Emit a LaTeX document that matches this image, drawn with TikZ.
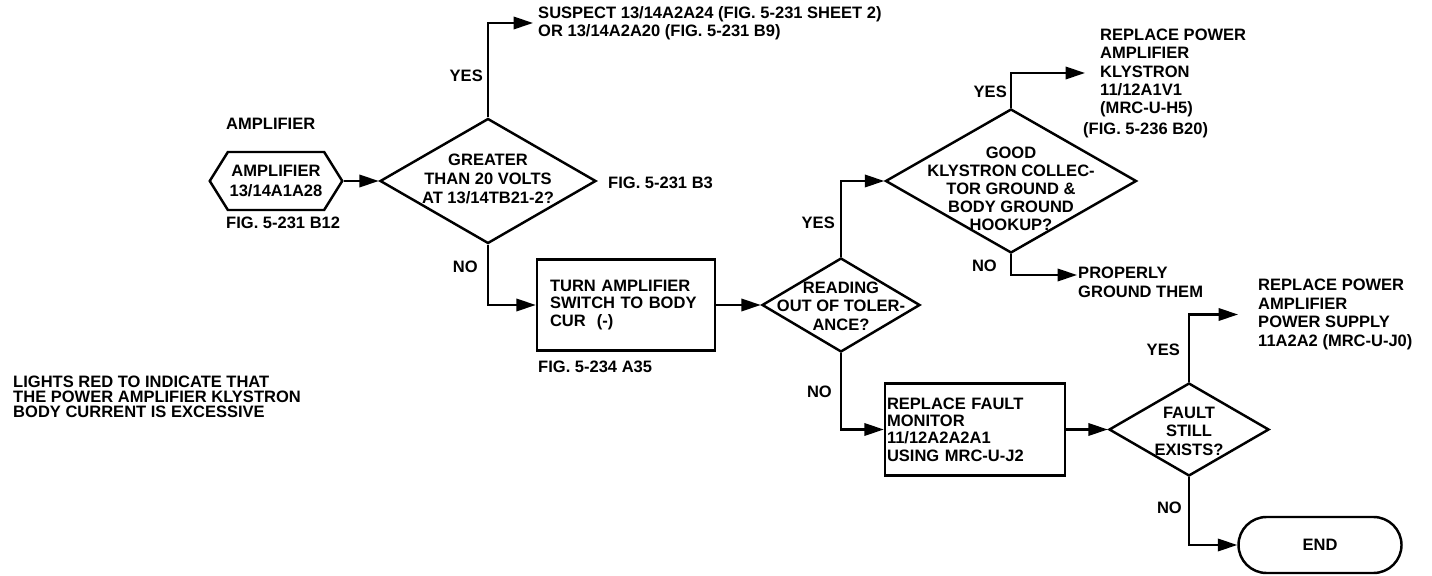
\documentclass[tikz,border=0pt]{standalone}
\usepackage{fontspec}
\setmainfont{Liberation Sans}
\usetikzlibrary{arrows.meta,shapes.geometric,shapes.symbols}
\newcommand{\flowfont}[1]{\bfseries\fontsize{9.4}{#1}\selectfont}

\begin{document}
\begin{tikzpicture}[
    line width=1.4pt,
    every node/.style={font=\flowfont{10.5pt}},
    arr/.style={-{Triangle[length=11pt,width=7pt]}},
    dia/.style={draw, diamond, inner sep=0pt},
    box/.style={draw, rectangle, inner ysep=0pt, align=left},
    lbl/.style={inner sep=0pt, align=left},
    diatext/.style={inner sep=0pt, align=center},
  ]
  \useasboundingbox (0,0) rectangle (28.64,11.52);

  % Вход
  \node[lbl, anchor=west] (amplbl) at (4.50,9.04) {AMPLIFIER};
  \node[draw, signal, signal to=west and east, signal pointer angle=116,
        minimum width=2.56cm, minimum height=1.16cm, inner sep=1pt,
        align=center, font=\flowfont{11.4pt}] (amp) at (5.52,7.90) {AMPLIFIER\\13/14A1A28};
  \node[lbl, anchor=west] (ampfig) at (4.50,7.06) {FIG. 5-231 B12};

  % Напряжение
  \node[dia, minimum width=4.32cm, minimum height=2.5cm] (d1) at (9.76,7.90) {};
  \node[diatext, font=\flowfont{11pt}] (d1t) at (9.76,7.94) {GREATER\\THAN 20 VOLTS\\AT 13/14TB21-2?};
  \node[lbl, anchor=west] (d1fig) at (12.14,7.86) {FIG. 5-231 B3};
  \node[lbl, anchor=west] (susp) at (10.74,11.06) {SUSPECT 13/14A2A24 (FIG. 5-231 SHEET 2)\\OR 13/14A2A20 (FIG. 5-231 B9)};
  \draw[arr] (amp.east) -- (d1.west);
  \draw[arr] (d1.north) |- ([xshift=-0.08cm]susp.west);
  \node[lbl, anchor=east] (yes1) at (9.68,10.00) {YES};

  \node[box, minimum width=3.56cm, minimum height=1.82cm, text width=3.04cm, inner xsep=0.26cm,
        font=\flowfont{10.2pt}] (b1) at (12.52,5.42) {TURN AMPLIFIER\\SWITCH TO BODY\\CUR~~(-)};
  \node[lbl, anchor=west] (b1fig) at (10.74,4.18) {FIG. 5-234 A35};
  \draw[arr] (d1.south) |- (b1.west);
  \node[lbl, anchor=east] (no1) at (9.58,6.18) {NO};

  % Ток корпуса
  \node[dia, minimum width=3.16cm, minimum height=1.88cm] (d2) at (16.82,5.42) {};
  \node[diatext] (d2t) at (16.82,5.40) {READING\\OUT OF TOLER-\\ANCE?};
  \draw[arr] (b1.east) -- (d2.west);

  \node[dia, minimum width=5.02cm, minimum height=2.88cm] (d3) at (20.22,7.90) {};
  \node[diatext, font=\flowfont{10.2pt}] (d3t) at (20.22,7.74) {GOOD\\KLYSTRON COLLEC-\\TOR GROUND \&\\BODY GROUND\\HOOKUP?};
  \draw[arr] (d2.north) |- (d3.west);
  \node[lbl, anchor=east] (yes2) at (16.72,7.06) {YES};

  \node[lbl, anchor=west, font=\flowfont{10.4pt}] (rep1) at (21.98,10.06) {REPLACE POWER\\AMPLIFIER\\KLYSTRON\\11/12A1V1\\(MRC-U-H5)};
  \node[lbl, anchor=west] (d3fig) at (21.64,8.92) {(FIG. 5-236 B20)};
  \draw[arr] (d3.north) |- ([xshift=-0.28cm]rep1.west);
  \node[lbl, anchor=east] (yes3) at (20.16,9.68) {YES};

  \node[lbl, anchor=west] (prop) at (21.54,5.87) {PROPERLY\\GROUND THEM};
  \draw[arr] (d3.south) |- ([yshift=0.15cm]prop.west);
  \node[lbl, anchor=east] (no3) at (19.96,6.20) {NO};

  % Монитор
  \node[box, minimum width=3.6cm, minimum height=1.84cm, text width=3.52cm, inner xsep=0.04cm,
        font=\flowfont{9.8pt}] (b2) at (19.50,2.93) {REPLACE FAULT\\MONITOR\\11/12A2A2A1\\USING MRC-U-J2};
  \draw[arr] (d2.south) |- (b2.west);
  \node[lbl, anchor=east] (no2) at (16.66,3.68) {NO};

  \node[dia, minimum width=3.2cm, minimum height=1.86cm] (d4) at (23.78,2.93) {};
  \node[diatext] (d4t) at (23.78,2.90) {FAULT\\STILL\\EXISTS?};
  \draw[arr] (b2.east) -- (d4.west);

  \node[lbl, anchor=west] (rep2) at (25.14,5.23) {REPLACE POWER\\AMPLIFIER\\POWER SUPPLY\\11A2A2 (MRC-U-J0)};
  \draw[arr] (d4.north) |- ([xshift=-0.38cm]rep2.west);
  \node[lbl, anchor=east] (yes4) at (23.62,4.52) {YES};

  \node[draw, rounded corners=0.56cm, minimum width=3.26cm, minimum height=1.12cm] (end) at (26.40,0.62) {END};
  \draw[arr] (d4.south) |- (end.west);
  \node[lbl, anchor=east] (no4) at (23.66,1.36) {NO};

  \node[lbl, anchor=west, font=\flowfont{8.6pt}] (note) at (0.24,3.58) {LIGHTS RED TO INDICATE THAT\\THE POWER AMPLIFIER KLYSTRON\\BODY CURRENT IS EXCESSIVE};
\end{tikzpicture}
\end{document}
